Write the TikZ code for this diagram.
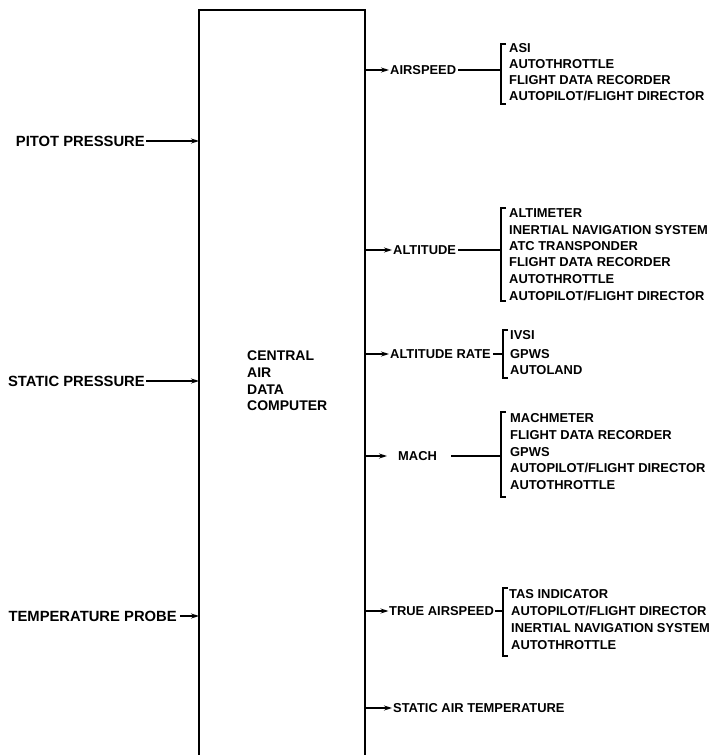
\documentclass[tikz,border=0pt]{standalone}
\usepackage{fontspec}
\setmainfont{Liberation Sans}
\usetikzlibrary{arrows.meta}
\newcommand{\mybrk}[3]{\draw[brk] (#1+5,#2) -- (#1,#2) -- (#1,#3) -- (#1+5,#3);}
\begin{document}
\begin{tikzpicture}[x=1pt,y=-1pt,
  inlabel/.style={font=\fontsize{14.8}{17}\selectfont\bfseries, inner sep=0pt, text height=10.5pt, text depth=0pt, anchor=east},
  outlabel/.style={font=\fontsize{12.9}{15}\selectfont\bfseries, inner sep=0pt, text height=9.2pt, text depth=0pt, anchor=west},
  item/.style={font=\fontsize{12.9}{15}\selectfont\bfseries, inner sep=0pt, text height=9.2pt, text depth=0pt, anchor=west},
  arr/.style={line width=1.1pt, -{Stealth[length=8pt,width=5pt]}},
  ln/.style={line width=1.1pt},
  boxline/.style={line width=1.5pt},
  brk/.style={line width=1.2pt}]
\useasboundingbox (0,0) rectangle (712,755);
% box
\coordinate (bl) at (199,756);
\coordinate (tl) at (199,10);
\coordinate (tr) at (365,10);
\coordinate (br) at (365,756);
\draw[boxline] (bl) -- (tl) -- (tr) -- (br);
\node[font=\fontsize{14}{16.6}\selectfont\bfseries, align=left, inner sep=0pt, anchor=west] (cadc) at (247,381) {CENTRAL\\AIR\\DATA\\COMPUTER};
% inputs
\node[inlabel] (pp) at (145,141) {PITOT PRESSURE};
\coordinate (ppin) at (199,141);
\draw[arr] ([xshift=1pt]pp.east) -- (ppin);
\node[inlabel] (sp) at (145,381) {STATIC PRESSURE};
\coordinate (spin) at (199,381);
\draw[arr] ([xshift=1pt]sp.east) -- (spin);
\node[inlabel] (tp) at (177,616) {TEMPERATURE PROBE};
\coordinate (tpin) at (199,616);
\draw[arr] ([xshift=3pt]tp.east) -- (tpin);
% airspeed
\coordinate (aso) at (365,70);
\node[outlabel] (as) at (390,70) {AIRSPEED};
\draw[arr] (aso) -- ([xshift=-1pt]as.west);
\coordinate (asb) at (501,70);
\draw[ln] ([xshift=2pt]as.east) -- (asb);
\mybrk{501}{44}{104}
\node[item] (as1) at (509,48) {ASI};
\node[item] (as2) at (509,64) {AUTOTHROTTLE};
\node[item] (as3) at (509,80) {FLIGHT DATA RECORDER};
\node[item] (as4) at (509,96) {AUTOPILOT/FLIGHT DIRECTOR};
% altitude
\coordinate (alo) at (365,250);
\node[outlabel] (al) at (393,250) {ALTITUDE};
\draw[arr] (alo) -- ([xshift=-1pt]al.west);
\coordinate (alb) at (501,250);
\draw[ln] ([xshift=2pt]al.east) -- (alb);
\mybrk{501}{208}{301}
\node[item] (al1) at (509,213) {ALTIMETER};
\node[item] (al2) at (509,230) {INERTIAL NAVIGATION SYSTEM};
\node[item] (al3) at (509,246) {ATC TRANSPONDER};
\node[item] (al4) at (509,262) {FLIGHT DATA RECORDER};
\node[item] (al5) at (509,279) {AUTOTHROTTLE};
\node[item] (al6) at (509,296) {AUTOPILOT/FLIGHT DIRECTOR};
% altitude rate
\coordinate (aro) at (365,354);
\node[outlabel] (ar) at (390,354) {ALTITUDE RATE};
\draw[arr] (aro) -- ([xshift=-1pt]ar.west);
\coordinate (arb) at (503,354);
\draw[ln] ([xshift=2pt]ar.east) -- (arb);
\mybrk{503}{330}{378}
\node[item] (ar1) at (510,335) {IVSI};
\node[item] (ar2) at (510,354) {GPWS};
\node[item] (ar3) at (510,370) {AUTOLAND};
% mach
\coordinate (mao) at (365,456);
\coordinate (matip) at (387,456);
\draw[arr] (mao) -- (matip);
\node[outlabel] (ma) at (398,456) {MACH};
\coordinate (mab) at (501,456);
\draw[ln] ([xshift=14pt]ma.east) -- (mab);
\mybrk{501}{412}{497}
\node[item] (ma1) at (510,418) {MACHMETER};
\node[item] (ma2) at (510,435) {FLIGHT DATA RECORDER};
\node[item] (ma3) at (510,452) {GPWS};
\node[item] (ma4) at (510,468) {AUTOPILOT/FLIGHT DIRECTOR};
\node[item] (ma5) at (510,485) {AUTOTHROTTLE};
% true airspeed
\coordinate (tao) at (365,611);
\node[outlabel] (ta) at (389,611) {TRUE AIRSPEED};
\draw[arr] (tao) -- ([xshift=-0.5pt]ta.west);
\coordinate (tab) at (503,611);
\draw[ln] ([xshift=1pt]ta.east) -- (tab);
\mybrk{503}{588}{656}
\node[item] (ta1) at (509,594) {TAS INDICATOR};
\node[item] (ta2) at (511,611) {AUTOPILOT/FLIGHT DIRECTOR};
\node[item] (ta3) at (511,628) {INERTIAL NAVIGATION SYSTEM};
\node[item] (ta4) at (511,645) {AUTOTHROTTLE};
% static air temperature
\coordinate (sao) at (365,708);
\node[outlabel] (sa) at (393,708) {STATIC AIR TEMPERATURE};
\draw[arr] (sao) -- ([xshift=-1pt]sa.west);
\end{tikzpicture}
\end{document}
